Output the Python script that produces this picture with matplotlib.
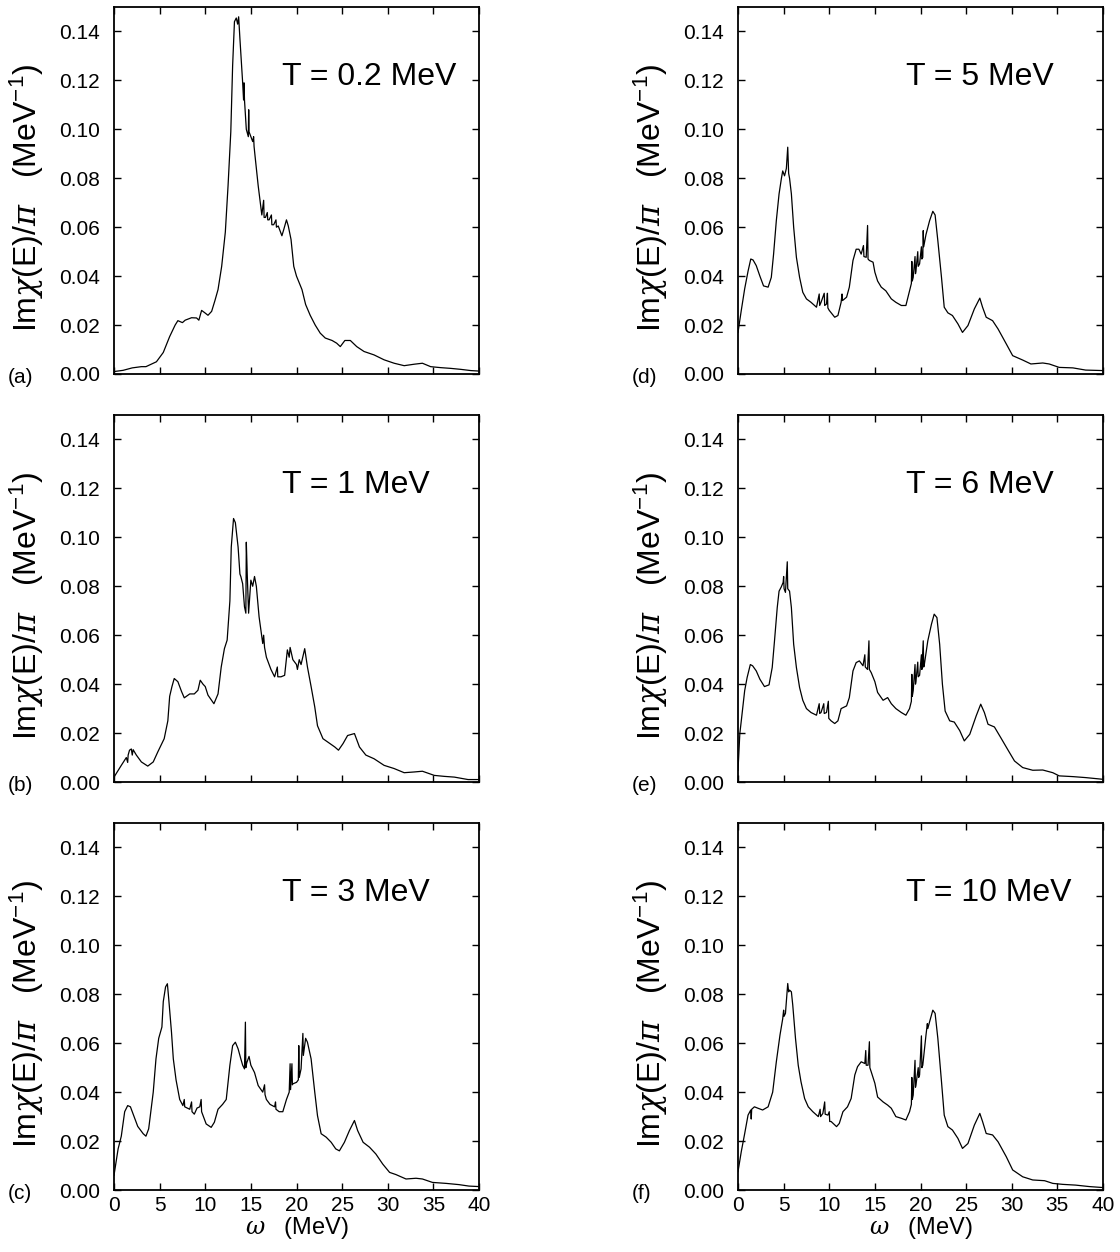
import matplotlib
matplotlib.use("Agg")
import matplotlib.pyplot as plt

plt.rcParams['font.family'] = ['Liberation Sans', 'DejaVu Sans']
plt.rcParams['mathtext.fontset'] = 'custom'
plt.rcParams['mathtext.rm'] = 'Liberation Sans'
plt.rcParams['mathtext.it'] = 'DejaVu Serif:italic'

# valeurs : omega (MeV), Im chi / pi (MeV^-1)
omega_a = [0, 1, 2, 3, 3.5, 4.65, 5.4, 6.1, 6.7, 7.0, 7.5, 7.8, 8.5, 9.05, 9.3, 9.6, 9.96, 10.3, 10.7, 11.06,
           11.4, 11.8, 12.2, 12.5, 12.8, 13.0, 13.2, 13.4, 13.55, 13.66, 13.8, 14.1, 14.2, 14.25, 14.3, 14.5,
           14.72, 14.76, 14.8, 14.9, 15.2, 15.3, 15.35, 15.46, 15.8, 16.2, 16.4, 16.45, 16.6, 16.8, 16.85, 17.0,
           17.25, 17.3, 17.5, 17.75, 17.8, 18.0, 18.4, 18.6, 18.9, 19.1, 19.4, 19.7, 20.0, 20.6, 21.0, 21.5,
           22.05, 22.6, 23.15, 23.9, 24.4, 24.8, 25.3, 25.9, 26.6, 27.4, 28.5, 29.6, 30.7, 31.8, 32.9, 33.8,
           34.7, 35.8, 36.9, 38, 39.1, 40]
chi_a = [0.001, 0.0015, 0.0025, 0.003, 0.003, 0.005, 0.0088, 0.0153, 0.020, 0.0218, 0.021, 0.022, 0.023, 0.0229,
         0.022, 0.026, 0.025, 0.024, 0.0256, 0.030, 0.0345, 0.044, 0.058, 0.077, 0.099, 0.126, 0.144, 0.1455,
         0.143, 0.146, 0.137, 0.119, 0.112, 0.119, 0.112, 0.100, 0.097, 0.108, 0.099, 0.098, 0.095, 0.097, 0.093,
         0.089, 0.077, 0.065, 0.071, 0.064, 0.064, 0.066, 0.063, 0.063, 0.065, 0.061, 0.061, 0.063, 0.060, 0.0605,
         0.0565, 0.059, 0.063, 0.0605, 0.055, 0.044, 0.040, 0.0345, 0.0284, 0.024, 0.020, 0.0167, 0.0147, 0.0137,
         0.0126, 0.0112, 0.0137, 0.0137, 0.0112, 0.0092, 0.0078, 0.0058, 0.0044, 0.0034, 0.004, 0.0044, 0.003,
         0.0026, 0.0023, 0.0019, 0.0014, 0.0012]

omega_b = [0, 0.8, 1.35, 1.5, 1.55, 1.7, 1.9, 2.0, 2.1, 2.45, 3.0, 3.7, 4.3, 4.8, 5.5, 5.9, 6.1, 6.35, 6.6, 7.0,
           7.4, 7.7, 8.3, 8.8, 9.2, 9.45, 9.75, 10.0, 10.3, 10.95, 11.4, 11.75, 12.1, 12.4, 12.7, 12.85, 13.1,
           13.3, 13.6, 13.8, 13.9, 14.1, 14.3, 14.45, 14.5, 14.6, 14.75, 15.0, 15.2, 15.4, 15.6, 15.9, 16.3, 16.4,
           16.5, 16.7, 17.2, 17.6, 17.9, 17.95, 18.3, 18.7, 19.0, 19.2, 19.3, 19.6, 20.0, 20.1, 20.3, 20.5, 20.9,
           21.2, 21.6, 22.0, 22.3, 22.9, 23.4, 24.2, 24.6, 25.1, 25.6, 26.35, 26.9, 27.6, 28.5, 29.6, 30.7, 31.8,
           32.9, 33.8, 35.1, 36.2, 37.3, 38.8, 40]
chi_b = [0.002, 0.0068, 0.010, 0.008, 0.011, 0.013, 0.0135, 0.011, 0.0132, 0.011, 0.0082, 0.0065, 0.0082, 0.0123,
         0.0177, 0.025, 0.035, 0.039, 0.0423, 0.041, 0.037, 0.0344, 0.036, 0.036, 0.0375, 0.0416, 0.040, 0.039,
         0.0355, 0.032, 0.036, 0.047, 0.0545, 0.058, 0.074, 0.096, 0.1077, 0.106, 0.096, 0.085, 0.084, 0.081,
         0.0716, 0.069, 0.098, 0.085, 0.069, 0.0825, 0.080, 0.084, 0.080, 0.0675, 0.0566, 0.060, 0.055, 0.051,
         0.046, 0.043, 0.047, 0.043, 0.043, 0.0436, 0.054, 0.051, 0.055, 0.050, 0.048, 0.046, 0.050, 0.048,
         0.0545, 0.047, 0.039, 0.0307, 0.023, 0.0177, 0.0164, 0.0143, 0.013, 0.0157, 0.019, 0.0198, 0.0143,
         0.011, 0.0095, 0.0068, 0.0055, 0.0038, 0.0041, 0.0044, 0.0027, 0.0023, 0.002, 0.001, 0.001]

omega_c = [0, 0.45, 0.8, 1.17, 1.5, 1.8, 2.1, 2.6, 3.2, 3.5, 3.8, 4.3, 4.6, 4.9, 5.25, 5.4, 5.65, 5.85, 6.0, 6.3,
           6.5, 6.8, 7.2, 7.55, 7.7, 7.75, 8.3, 8.5, 8.55, 8.8, 9.1, 9.4, 9.55, 9.6, 9.8, 10.1, 10.65, 11.0, 11.4,
           11.9, 12.3, 12.7, 13.0, 13.3, 13.6, 13.9, 14.1, 14.3, 14.4, 14.45, 14.55, 14.8, 15.0, 15.4, 15.8, 16.3,
           16.5, 16.55, 16.7, 17.1, 17.6, 17.7, 17.75, 18.1, 18.5, 18.9, 19.2, 19.3, 19.35, 19.5, 19.55, 19.6,
           20.0, 20.2, 20.25, 20.3, 20.5, 20.7, 20.75, 21.0, 21.2, 21.6, 22.0, 22.3, 22.7, 23.25, 23.8, 24.3,
           24.7, 25.25, 25.8, 26.35, 26.7, 27.3, 28.0, 28.7, 29.45, 30.2, 30.9, 32.0, 33.1, 33.8, 34.9, 36.4,
           37.8, 38.9, 40]
chi_c = [0.006, 0.0168, 0.022, 0.032, 0.0345, 0.034, 0.031, 0.026, 0.023, 0.022, 0.025, 0.040, 0.0536, 0.062,
         0.0666, 0.077, 0.083, 0.0843, 0.078, 0.0645, 0.0536, 0.045, 0.037, 0.0345, 0.037, 0.034, 0.033, 0.036,
         0.032, 0.031, 0.0335, 0.034, 0.037, 0.032, 0.030, 0.027, 0.0256, 0.0277, 0.033, 0.035, 0.037, 0.051,
         0.059, 0.0604, 0.0577, 0.0536, 0.051, 0.0495, 0.0686, 0.050, 0.052, 0.0546, 0.051, 0.048, 0.0427, 0.040,
         0.043, 0.039, 0.037, 0.035, 0.034, 0.036, 0.033, 0.032, 0.032, 0.037, 0.040, 0.0516, 0.041, 0.0516,
         0.043, 0.0434, 0.044, 0.045, 0.059, 0.046, 0.0495, 0.064, 0.055, 0.062, 0.0604, 0.0536, 0.040, 0.0304,
         0.023, 0.0216, 0.0195, 0.0168, 0.016, 0.0195, 0.0243, 0.0284, 0.0243, 0.0195, 0.0175, 0.0147, 0.0106,
         0.0072, 0.0063, 0.0045, 0.0048, 0.0045, 0.0031, 0.0027, 0.0022, 0.0016, 0.0014]

omega_d = [0, 0.36, 0.73, 1.1, 1.4, 1.65, 2.0, 2.4, 2.8, 3.3, 3.65, 3.9, 4.2, 4.5, 4.75, 4.9, 5.1, 5.3, 5.45, 5.55,
           5.65, 5.85, 6.1, 6.4, 6.75, 7.1, 7.5, 8.0, 8.6, 8.9, 8.95, 9.1, 9.45, 9.5, 9.7, 9.8, 9.85, 10.0, 10.6,
           10.95, 11.3, 11.4, 11.45, 11.9, 12.2, 12.6, 12.95, 13.25, 13.5, 13.75, 13.8, 14.05, 14.2, 14.25, 14.4,
           14.8, 15.0, 15.3, 15.7, 16.2, 16.8, 17.3, 17.9, 18.4, 18.8, 19.0, 19.05, 19.1, 19.2, 19.4, 19.45, 19.5,
           19.7, 19.75, 19.9, 20.1, 20.15, 20.25, 20.3, 20.35, 20.6, 21.0, 21.35, 21.6, 21.9, 22.3, 22.6, 23.0,
           23.5, 24.1, 24.6, 25.2, 25.9, 26.5, 26.8, 27.2, 27.9, 28.5, 29.4, 30.1, 31.2, 32.1, 33.4, 34.1, 35.2,
           36.7, 38.1, 40]
chi_d = [0.017, 0.026, 0.0348, 0.042, 0.047, 0.0466, 0.0443, 0.040, 0.036, 0.0355, 0.0395, 0.049, 0.0627, 0.0736,
         0.0798, 0.083, 0.081, 0.084, 0.0927, 0.082, 0.080, 0.0736, 0.060, 0.0477, 0.0395, 0.0334, 0.0307, 0.0293,
         0.0273, 0.0327, 0.028, 0.0293, 0.033, 0.028, 0.0286, 0.033, 0.027, 0.026, 0.0232, 0.0239, 0.0293, 0.0327,
         0.030, 0.0314, 0.0355, 0.0464, 0.051, 0.051, 0.049, 0.0525, 0.048, 0.0477, 0.0607, 0.047, 0.0464, 0.0457,
         0.0416, 0.038, 0.0355, 0.034, 0.0307, 0.0293, 0.028, 0.028, 0.034, 0.037, 0.046, 0.038, 0.0395, 0.048,
         0.041, 0.042, 0.050, 0.044, 0.045, 0.052, 0.047, 0.0477, 0.0586, 0.052, 0.057, 0.0627, 0.0665, 0.065,
         0.0545, 0.0395, 0.0273, 0.025, 0.0239, 0.0205, 0.017, 0.0198, 0.0266, 0.031, 0.0273, 0.0232, 0.0218,
         0.0184, 0.0123, 0.0075, 0.0057, 0.0041, 0.0045, 0.0041, 0.0027, 0.0025, 0.0016, 0.0014]

omega_e = [0, 0.2, 0.36, 0.73, 1.0, 1.35, 1.6, 2.0, 2.4, 2.9, 3.4, 3.75, 4.0, 4.3, 4.5, 4.75, 4.95, 5.0, 5.05, 5.2,
           5.4, 5.45, 5.65, 5.85, 6.1, 6.4, 6.75, 7.1, 7.5, 8.0, 8.6, 8.9, 8.95, 9.1, 9.4, 9.45, 9.7, 9.9, 9.95,
           10.2, 10.6, 10.95, 11.3, 11.9, 12.2, 12.6, 12.95, 13.3, 13.7, 13.9, 13.95, 14.2, 14.35, 14.4, 14.6, 15.0,
           15.3, 15.9, 16.4, 16.8, 17.3, 17.9, 18.4, 18.8, 19.0, 19.05, 19.1, 19.2, 19.4, 19.45, 19.5, 19.7, 19.75,
           19.9, 20.1, 20.15, 20.3, 20.35, 20.4, 20.8, 21.2, 21.5, 21.8, 22.1, 22.4, 22.7, 23.2, 23.7, 24.3, 24.8,
           25.4, 26.1, 26.6, 27.0, 27.4, 28.1, 28.8, 29.6, 30.3, 31.2, 32.3, 33.4, 34.5, 35.2, 36.7, 38.1, 40]
chi_e = [0.0048, 0.0198, 0.025, 0.0373, 0.0427, 0.048, 0.0475, 0.0454, 0.042, 0.039, 0.0397, 0.0468, 0.0577,
         0.0713, 0.078, 0.0798, 0.0816, 0.084, 0.079, 0.0775, 0.090, 0.079, 0.078, 0.0713, 0.0563, 0.0468, 0.0386,
         0.0334, 0.030, 0.0284, 0.0273, 0.032, 0.028, 0.0284, 0.032, 0.028, 0.0284, 0.033, 0.026, 0.025, 0.0239,
         0.025, 0.030, 0.0311, 0.0345, 0.0454, 0.0488, 0.0495, 0.0475, 0.052, 0.047, 0.046, 0.0577, 0.046, 0.0447,
         0.041, 0.0366, 0.0334, 0.0345, 0.032, 0.030, 0.0284, 0.0273, 0.030, 0.033, 0.044, 0.035, 0.0373, 0.048,
         0.040, 0.041, 0.049, 0.043, 0.0436, 0.052, 0.046, 0.0577, 0.047, 0.0475, 0.0577, 0.0645, 0.0686, 0.0672,
         0.0563, 0.040, 0.029, 0.025, 0.0245, 0.021, 0.0168, 0.0195, 0.027, 0.0318, 0.0284, 0.0236, 0.0225, 0.0181,
         0.013, 0.0086, 0.0059, 0.0048, 0.0049, 0.0038, 0.0025, 0.0022, 0.0018, 0.0011]

omega_f = [0, 0.36, 0.73, 1.1, 1.4, 1.45, 1.5, 1.8, 2.2, 2.7, 3.3, 3.8, 4.2, 4.6, 4.9, 5.0, 5.05, 5.2, 5.45, 5.55,
           5.65, 5.85, 6.0, 6.3, 6.6, 6.9, 7.3, 7.7, 8.2, 8.8, 9.0, 9.05, 9.3, 9.5, 9.55, 9.85, 10.0, 10.05, 10.2,
           10.8, 11.1, 11.5, 12.0, 12.4, 12.8, 13.1, 13.5, 13.9, 14.0, 14.05, 14.25, 14.4, 14.45, 14.6, 15.0, 15.3,
           15.9, 16.4, 16.8, 17.3, 17.9, 18.4, 18.8, 19.0, 19.05, 19.1, 19.2, 19.4, 19.45, 19.5, 19.75, 19.8, 19.9,
           20.1, 20.15, 20.25, 20.6, 20.75, 20.8, 21.0, 21.35, 21.6, 21.9, 22.3, 22.6, 23.0, 23.5, 24.1, 24.6, 25.2,
           25.9, 26.5, 26.8, 27.2, 27.9, 28.5, 29.4, 30.1, 31.2, 32.3, 33.6, 34.5, 35.6, 37.0, 38.5, 40]
chi_f = [0.0075, 0.0157, 0.023, 0.0306, 0.0327, 0.029, 0.033, 0.034, 0.0334, 0.0327, 0.034, 0.040, 0.0524, 0.0633,
         0.070, 0.0735, 0.071, 0.0722, 0.0844, 0.081, 0.0817, 0.081, 0.0756, 0.062, 0.051, 0.0443, 0.0374, 0.034,
         0.032, 0.030, 0.033, 0.030, 0.0313, 0.036, 0.031, 0.0306, 0.032, 0.028, 0.028, 0.0259, 0.0272, 0.032,
         0.034, 0.0374, 0.047, 0.0504, 0.0524, 0.0517, 0.057, 0.051, 0.051, 0.0606, 0.050, 0.0483, 0.0436, 0.038,
         0.036, 0.0347, 0.0334, 0.030, 0.0293, 0.0286, 0.032, 0.035, 0.046, 0.037, 0.0388, 0.053, 0.042, 0.0429,
         0.050, 0.046, 0.047, 0.063, 0.050, 0.051, 0.0633, 0.068, 0.066, 0.0688, 0.0735, 0.0722, 0.062, 0.0443,
         0.0306, 0.0259, 0.0245, 0.0211, 0.017, 0.019, 0.0265, 0.0313, 0.028, 0.0231, 0.0225, 0.0197, 0.0136,
         0.0082, 0.0054, 0.0041, 0.0038, 0.0027, 0.0023, 0.002, 0.0014, 0.001]

temperatures = ["0.2", "1", "3", "5", "6", "10"]
panel_labels = ["(a)", "(b)", "(c)", "(d)", "(e)", "(f)"]
x_ticks = [0, 5, 10, 15, 20, 25, 30, 35, 40]
y_ticks = [0.00, 0.02, 0.04, 0.06, 0.08, 0.10, 0.12, 0.14]

courbes = [(omega_a, chi_a), (omega_b, chi_b), (omega_c, chi_c),
           (omega_d, chi_d), (omega_e, chi_e), (omega_f, chi_f)]

W, H = 1120, 1252
fig = plt.figure(figsize=(W / 100, H / 100), dpi=100)

lefts = [114, 738]
tops = [7, 415, 823]
largeur, hauteur = 365, 367

for i, (om, chi) in enumerate(courbes):
    col = i // 3
    row = i % 3
    x0 = lefts[col] / W
    y0 = 1 - (tops[row] + hauteur) / H
    ax = fig.add_axes([x0, y0, largeur / W, hauteur / H])
    ax.plot(om, chi, color="black", lw=0.9)
    ax.set_xlim(0, 40)
    ax.set_ylim(0, 0.15)
    ax.set_xticks(x_ticks)
    ax.set_yticks(y_ticks)
    ax.set_yticklabels([f"{v:.2f}" for v in y_ticks], fontsize=15)
    ax.tick_params(direction="in", top=True, right=True, length=5, width=1)
    ax.tick_params(axis="y", pad=10)
    if row == 2:
        ax.set_xticklabels([str(v) for v in x_ticks], fontsize=15)
        ax.tick_params(axis="x", pad=4)
        ax.set_xlabel(r"$\omega$   (MeV)", fontsize=17, labelpad=0)
    else:
        ax.set_xticklabels([])
    for s in ax.spines.values():
        s.set_linewidth(1.3)
    ax.set_ylabel(r"Im$\chi$(E)/$\pi$   (MeV$^{-1}$)", fontsize=23)
    ax.yaxis.set_label_coords(-0.185, 0.48)
    ax.text(0.46, 0.81, f"T = {temperatures[i]} MeV", transform=ax.transAxes,
            fontsize=23, ha="left", va="center")
    ax.text(-0.29, -0.01, panel_labels[i], transform=ax.transAxes,
            fontsize=15, ha="left", va="center")

fig.savefig("out.png", dpi=100)
